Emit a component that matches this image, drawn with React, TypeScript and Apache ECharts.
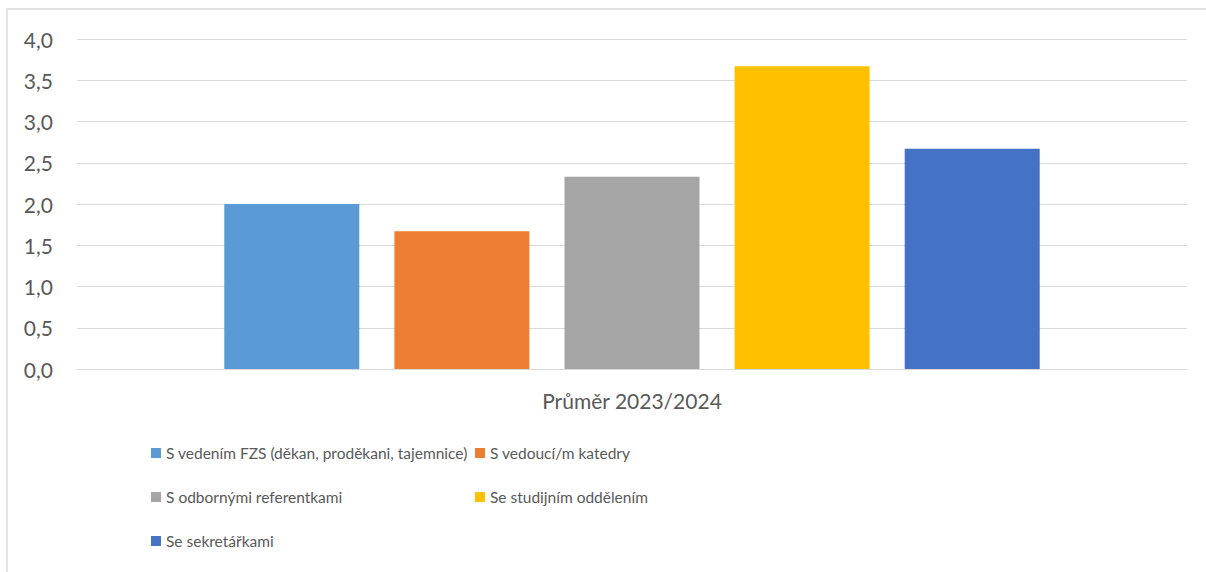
import React, { useEffect, useRef } from "react";
import * as echarts from "echarts";

const categories = ["Průměr 2023/2024"];
const seriesNames = [
  "S vedením FZS (děkan, proděkani, tajemnice)",
  "S vedoucí/m katedry",
  "S odbornými referentkami",
  "Se studijním oddělením",
  "Se sekretářkami",
];
const seriesValues = [2.0, 1.67, 2.33, 3.67, 2.67];
const seriesColors = ["#5B9BD5", "#ED7D31", "#A5A5A5", "#FFC000", "#4472C4"];
const legendPos = [
  { left: 151, top: 445 },
  { left: 475, top: 445 },
  { left: 151, top: 489 },
  { left: 475, top: 489 },
  { left: 151, top: 533 },
];

const FONT = "Lato";

export default function App() {
  const ref = useRef<HTMLDivElement>(null);
  useEffect(() => {
    if (!ref.current) return;
    const chart = echarts.init(ref.current, undefined, { renderer: "svg" });
    chart.setOption({
      animation: false,
      backgroundColor: "#ffffff",
      textStyle: { fontFamily: FONT },
      grid: { left: 77, right: 19, top: 39, bottom: 203 },
      xAxis: {
        type: "category",
        data: categories,
        axisLine: { lineStyle: { color: "#d9d9d9", width: 1 } },
        axisTick: { show: false },
        axisLabel: { color: "#595959", fontSize: 21, margin: 21, fontFamily: FONT },
      },
      yAxis: {
        type: "value",
        min: 0,
        max: 4,
        interval: 0.5,
        axisLine: { show: false },
        axisTick: { show: false },
        splitLine: { lineStyle: { color: "#d9d9d9", width: 1 } },
        axisLabel: {
          color: "#595959",
          fontSize: 21,
          margin: 24,
          fontFamily: FONT,
          formatter: (v: number) => v.toFixed(1).replace(".", ","),
        },
      },
      legend: seriesNames.map((n, i) => ({
        data: [n],
        left: legendPos[i].left,
        top: legendPos[i].top,
        icon: "rect",
        itemWidth: 10,
        itemHeight: 10,
        padding: 0,
        textStyle: { color: "#595959", fontSize: 15.5, fontFamily: FONT },
        selectedMode: false,
      })),
      graphic: [
        {
          type: "rect",
          shape: { x: 7, y: 9, width: 1220, height: 620 },
          style: { fill: "none", stroke: "#d9d9d9", lineWidth: 1.5 },
          silent: true,
        },
      ],
      series: seriesNames.map((n, i) => ({
        type: "bar",
        name: n,
        data: [seriesValues[i]],
        barWidth: 135,
        barGap: "26%",
        itemStyle: { color: seriesColors[i] },
      })),
    });
    return () => chart.dispose();
  }, []);
  return (
    <div
      ref={ref}
      style={{ position: "fixed", left: 0, top: 0, width: 1206, height: 572 }}
    />
  );
}
